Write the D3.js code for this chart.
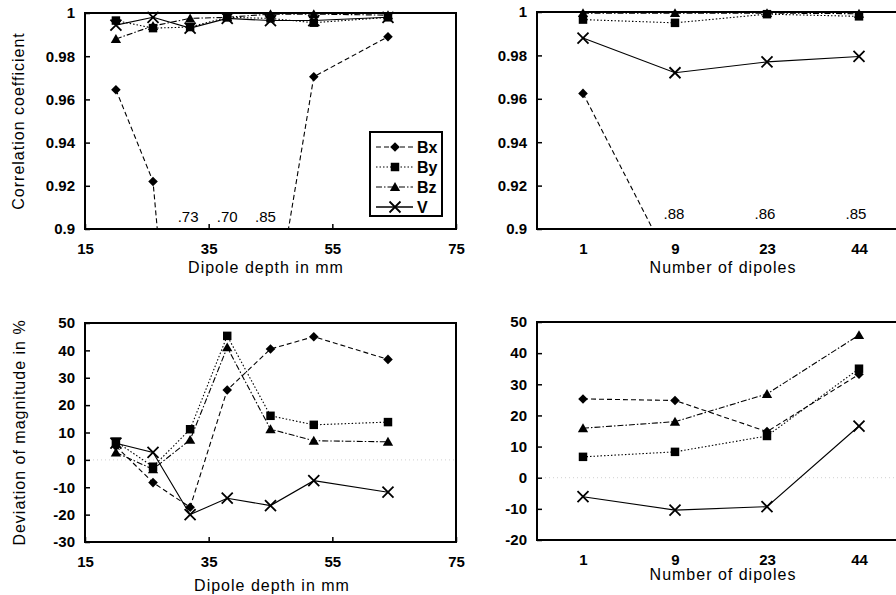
<!DOCTYPE html>
<html>
<head>
<meta charset="utf-8">
<script src="https://cdn.jsdelivr.net/npm/d3@7"></script>
<style>
  body { margin: 0; background: #fff; }
  text { font-family: "Liberation Sans", Arial, sans-serif; fill: #000; }
</style>
</head>
<body>
<svg id="chart"></svg>
<script>
// 1. Data
const seriesNames = ["Bx", "By", "Bz", "V"];
const depths = [20, 26, 32, 38, 45, 52, 64];
const dipoles = ["1", "9", "23", "44"];

const depthTicks = [15, 35, 55, 75];
const corrTicks = [0.9, 0.92, 0.94, 0.96, 0.98, 1];
const devDepthTicks = [-30, -20, -10, 0, 10, 20, 30, 40, 50];
const devDipoleTicks = [-20, -10, 0, 10, 20, 30, 40, 50];

// correlation coefficient vs dipole depth
const corrDepthBx = [0.9645, 0.922, 0.73, 0.70, 0.85, 0.9705, 0.989];
const corrDepthBy = [0.9965, 0.993, 0.9935, 0.998, 0.9975, 0.9955, 0.998];
const corrDepthBz = [0.988, 0.994, 0.9975, 0.998, 0.9995, 0.9995, 0.999];
const corrDepthV  = [0.9944, 0.998, 0.993, 0.9975, 0.9965, 0.9965, 0.998];

// correlation coefficient vs number of dipoles
const corrDipBx = [0.9625, 0.88, 0.86, 0.85];
const corrDipBy = [0.9965, 0.995, 0.999, 0.998];
const corrDipBz = [0.9995, 0.9995, 0.9995, 0.9992];
const corrDipV  = [0.988, 0.972, 0.977, 0.9795];

// deviation of magnitude (%) vs dipole depth
const devDepthBx = [5, -8.3, -17.3, 25.5, 40.5, 45, 36.7];
const devDepthBy = [6.7, -2.5, 11.2, 45.3, 16.1, 12.8, 13.8];
const devDepthBz = [2.7, -3.4, 7.3, 41.1, 11.2, 7.0, 6.6];
const devDepthV  = [6.1, 2.7, -20, -14, -16.7, -7.6, -11.8];

// deviation of magnitude (%) vs number of dipoles
const devDipBx = [25.3, 24.8, 14.8, 33.2];
const devDipBy = [6.7, 8.3, 13.4, 35];
const devDipBz = [15.9, 18, 26.9, 45.8];
const devDipV  = [-6.1, -10.4, -9.3, 16.6];

// 2. SVG
const WIDTH = 896, HEIGHT = 595;
const svg = d3.select("#chart").attr("width", WIDTH).attr("height", HEIGHT);

// line style per series (dash pattern + marker)
const dashes = { Bx: "5,3", By: "1.5,2", Bz: "6,2,1.5,2", V: null };

function drawMarker(g, name, x, y) {
  if (name === "V") {
    g.append("path")
      .attr("d", `M${x - 5.5},${y - 5.5}L${x + 5.5},${y + 5.5}M${x - 5.5},${y + 5.5}L${x + 5.5},${y - 5.5}`)
      .attr("stroke", "#000").attr("stroke-width", 1.8).attr("fill", "none");
  } else if (name === "Bx") {
    g.append("path")
      .attr("d", d3.symbol(d3.symbolSquare, 46)())
      .attr("transform", `translate(${x},${y}) rotate(45)`)
      .attr("fill", "#000");
  } else if (name === "By") {
    g.append("path")
      .attr("d", d3.symbol(d3.symbolSquare, 72)())
      .attr("transform", `translate(${x},${y})`)
      .attr("fill", "#000");
  } else {
    g.append("path")
      .attr("d", d3.symbol(d3.symbolTriangle, 46)())
      .attr("transform", `translate(${x},${y + 1})`)
      .attr("fill", "#000");
  }
}

let clipCount = 0;

// 3. One panel
function makePanel(opt) {
  const x = opt.x, y = opt.y;
  const [x0, x1] = x.range();
  const [y1, y0] = y.range();
  const g = svg.append("g");

  const clipId = "clip" + (clipCount++);
  svg.append("clipPath").attr("id", clipId)
    .append("rect").attr("x", x0).attr("y", y0 - 6).attr("width", x1 - x0).attr("height", y1 - y0 + 6);

  // faint zero line
  if (opt.zeroLine) {
    g.append("line")
      .attr("x1", x0).attr("x2", x1)
      .attr("y1", y(0)).attr("y2", y(0))
      .attr("stroke", "#d0d0d0").attr("stroke-dasharray", "1,3");
  }

  // y axis
  const yAxis = g.append("g")
    .attr("transform", `translate(${x0},0)`)
    .call(d3.axisLeft(y).tickValues(opt.yTicks).tickSizeInner(-5).tickSizeOuter(0)
      .tickPadding(10).tickFormat(d => String(d)));
  yAxis.select(".domain").remove();
  yAxis.selectAll("line").attr("stroke-width", 1.5);
  yAxis.selectAll("text").attr("font-size", 15).attr("font-weight", "bold")
    .attr("font-family", "Liberation Sans, Arial, sans-serif").attr("fill", "#000");

  // x axis
  const xAxisFn = d3.axisBottom(x).tickSizeOuter(0).tickPadding(14);
  if (opt.xTicks) xAxisFn.tickValues(opt.xTicks).tickSizeInner(-5);
  else xAxisFn.tickSizeInner(0);
  const xAxis = g.append("g")
    .attr("transform", `translate(0,${y1})`)
    .call(xAxisFn);
  xAxis.select(".domain").remove();
  xAxis.selectAll("line").attr("stroke-width", 1.5);
  xAxis.selectAll("text").attr("font-size", 15).attr("font-weight", "bold")
    .attr("font-family", "Liberation Sans, Arial, sans-serif").attr("fill", "#000");

  // frame
  g.append("rect")
    .attr("x", x0).attr("y", y0)
    .attr("width", x1 - x0).attr("height", y1 - y0)
    .attr("fill", "none").attr("stroke", "#000").attr("stroke-width", 2);

  // series lines + markers
  const plot = g.append("g").attr("clip-path", `url(#${clipId})`);
  seriesNames.forEach((name, i) => {
    const vals = opt.values[i];
    const pts = opt.cats.map((c, j) => [x(c), y(vals[j])]);
    plot.append("path")
      .attr("d", d3.line()(pts))
      .attr("fill", "none").attr("stroke", "#000").attr("stroke-width", 1.1)
      .attr("stroke-dasharray", dashes[name]);
  });
  // markers drawn in reverse so Bx sits on top like the original
  [...seriesNames].reverse().forEach(name => {
    const i = seriesNames.indexOf(name);
    const vals = opt.values[i];
    opt.cats.forEach((c, j) => {
      if (vals[j] >= y.domain()[0]) drawMarker(plot, name, x(c), y(vals[j]));
    });
  });

  // off-scale values written above the bottom axis
  if (opt.offScale) {
    const bx = opt.values[0];
    opt.cats.forEach((c, j) => {
      if (bx[j] < y.domain()[0]) {
        g.append("text")
          .attr("x", x(c) + (opt.noteShift ? opt.noteShift[j] : 0))
          .attr("y", y1 - opt.noteLift)
          .attr("text-anchor", "middle")
          .attr("font-size", 15)
          .text(d3.format(".2f")(bx[j]).slice(1));
      }
    });
  }

  // titles
  g.append("text")
    .attr("x", opt.xTitleX).attr("y", opt.xTitleY)
    .attr("text-anchor", "middle").attr("font-size", 16).attr("letter-spacing", 1)
    .text(opt.xTitle);
  if (opt.yTitle) {
    g.append("text")
      .attr("transform", `translate(${opt.yTitleX},${(y0 + y1) / 2}) rotate(-90)`)
      .attr("text-anchor", "middle").attr("dy", "0.35em")
      .attr("font-size", 16).attr("letter-spacing", 1)
      .text(opt.yTitle);
  }
}

// 4. Scales
const xDepthTop = d3.scaleLinear().domain([15, 75]).range([85, 456]);
const xDepthBot = d3.scaleLinear().domain([15, 75]).range([85, 456]);
const xDipTop = d3.scalePoint().domain(dipoles).range([537, 905]).padding(0.5);
const xDipBot = d3.scalePoint().domain(dipoles).range([537, 905]).padding(0.5);

const yCorrLeft = d3.scaleLinear().domain([0.9, 1]).range([229, 13]);
const yCorrRight = d3.scaleLinear().domain([0.9, 1]).range([229, 12]);
const yDevLeft = d3.scaleLinear().domain([-30, 50]).range([542, 323]);
const yDevRight = d3.scaleLinear().domain([-20, 50]).range([540, 322]);

// 5. Panels
makePanel({
  x: xDepthTop, y: yCorrLeft, cats: depths, xTicks: depthTicks, yTicks: corrTicks,
  values: [corrDepthBx, corrDepthBy, corrDepthBz, corrDepthV],
  offScale: true, noteLift: 7, noteShift: [0, 0, -2, 0, -5, 0, 0],
  xTitle: "Dipole depth in mm", xTitleX: 266, xTitleY: 273,
  yTitle: "Correlation coefficient", yTitleX: 18
});

makePanel({
  x: xDipTop, y: yCorrRight, cats: dipoles, yTicks: corrTicks,
  values: [corrDipBx, corrDipBy, corrDipBz, corrDipV],
  offScale: true, noteLift: 10, noteShift: [0, -1, -2, -3],
  xTitle: "Number of dipoles", xTitleX: 723, xTitleY: 273
});

makePanel({
  x: xDepthBot, y: yDevLeft, cats: depths, xTicks: depthTicks, yTicks: devDepthTicks,
  values: [devDepthBx, devDepthBy, devDepthBz, devDepthV], zeroLine: true,
  xTitle: "Dipole depth in mm", xTitleX: 272, xTitleY: 591,
  yTitle: "Deviation of magnitude in %", yTitleX: 19
});

makePanel({
  x: xDipBot, y: yDevRight, cats: dipoles, yTicks: devDipoleTicks,
  values: [devDipBx, devDipBy, devDipBz, devDipV], zeroLine: true,
  xTitle: "Number of dipoles", xTitleX: 723, xTitleY: 580
});

// 6. Legend (top-left panel)
const legend = svg.append("g");
legend.append("rect")
  .attr("x", 370).attr("y", 132).attr("width", 72).attr("height", 84)
  .attr("fill", "#fff").attr("stroke", "#000").attr("stroke-width", 2);
seriesNames.forEach((name, i) => {
  const ly = 147 + i * 20;
  legend.append("line")
    .attr("x1", 376).attr("x2", 413).attr("y1", ly).attr("y2", ly)
    .attr("stroke", "#000").attr("stroke-width", name === "V" ? 1.5 : 1)
    .attr("stroke-dasharray", dashes[name]);
  drawMarker(legend, name, 395, ly);
  legend.append("text")
    .attr("x", 417).attr("y", ly).attr("dy", "0.36em")
    .attr("font-size", 16).attr("font-weight", "bold")
    .text(name);
});
</script>
</body>
</html>
